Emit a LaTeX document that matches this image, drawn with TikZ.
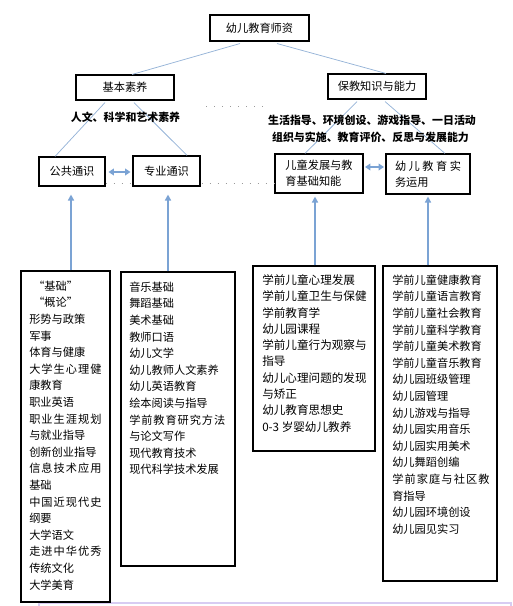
\documentclass[tikz,border=0pt]{standalone}
\usepackage{fontspec}
\setmainfont{Noto Sans CJK SC}
\usetikzlibrary{calc,arrows.meta}
\definecolor{connc}{HTML}{95B3D7}
\definecolor{arrc}{HTML}{7BA3D4}
\definecolor{lavc}{HTML}{D8CCF2}
\definecolor{dotc}{HTML}{9A9A9A}
\newcommand\jst[2]{\makebox[#1pt][l]{#2}}
\tikzset{
  box/.style={draw=black, line width=0.8pt, fill=white, inner sep=0pt, align=center,
    font=\fontsize{8.4}{12}\selectfont},
  lst/.style={anchor=north west, inner sep=0pt, align=left, font=\fontsize{8.4}{12.45}\selectfont},
  lbl/.style={inner sep=0pt, font=\fontsize{8.2}{12}\selectfont\bfseries},
  conn/.style={draw=connc, line width=0.55pt},
  uparr/.style={draw=arrc, line width=1.3pt, -{Triangle[length=4.5pt,width=4.5pt]}},
  dblarr/.style={draw=arrc, line width=1.6pt, {Triangle[length=4pt,width=5pt]}-{Triangle[length=4pt,width=5pt]}},
  dotl/.style={draw=dotc, line width=0.6pt, dash pattern=on 0.8pt off 5.2pt},
}
\begin{document}
\begin{tikzpicture}[x=0.75pt,y=-0.75pt]
\useasboundingbox (0,0) rectangle (513,606);
% background partial frame
\draw[lavc, line width=0.8pt] (39,603) rectangle (511,615);
% dotted guide lines
\coordinate (d1) at (206,106);
\coordinate (d2) at (263,106);
\draw[dotl] (d1) -- (d2);
% boxes (positions)
\node[box, minimum width=99*0.75pt, minimum height=26*0.75pt] (tp) at (259.5,28) {幼儿教育师资};
\node[box, minimum width=98*0.75pt, minimum height=25*0.75pt] (jb) at (125,87.5) {基本素养};
\node[box, minimum width=98*0.75pt, minimum height=25*0.75pt] (bj) at (377,86.5) {保教知识与能力};
\node[box, minimum width=66*0.75pt, minimum height=29*0.75pt] (gg) at (72,171.5) {公共通识};
\node[box, minimum width=88*0.75pt, minimum height=39*0.75pt, align=left] (kd) at (319,173.5) {儿童发展与教\\育基础知能};
\node[box, minimum width=84*0.75pt, minimum height=40*0.75pt, align=left] (sw) at (428,174)
  {\jst{49.5}{幼\hfill 儿\hfill 教\hfill 育\hfill 实}\\务运用};
% dotted line behind the middle box
\draw[dotl] ($(gg.east)+(0,11.5)$) -- ($(kd.west)+(0,9.5)$);
\node[box, minimum width=67*0.75pt, minimum height=30*0.75pt] (zy) at (166.5,171) {专业通识};
% list boxes
\node[box, minimum width=89*0.75pt, minimum height=331*0.75pt] (lb) at (65.5,436.5) {};
\node[box, minimum width=114*0.75pt, minimum height=294*0.75pt] (mb) at (178,419) {};
\node[box, minimum width=122*0.75pt, minimum height=185*0.75pt] (r1) at (314,358.5) {};
\node[box, minimum width=114*0.75pt, minimum height=315*0.75pt] (r2) at (440,423.5) {};
% connectors
\draw[conn] ($(tp.south)+(-19.5,2)$) -- ($(jb.north)+(7,0)$);
\draw[conn] ($(tp.south)+(17.5,2)$) -- ($(bj.north)+(9,0)$);
\draw[conn] ($(jb.south)+(-20,2)$) -- ($(gg.north)+(-17,0)$);
\draw[conn] ($(jb.south)+(9,2)$) -- ($(zy.north)+(20.5,0)$);
\draw[conn] ($(bj.south)+(-20,2)$) -- ($(kd.north)+(-14,0)$);
\draw[conn] ($(bj.south)+(8,2)$) -- ($(sw.north)+(17,0)$);
% labels
\node[lbl] (la) at (125.5,117.5) {人文、科学和艺术素养};
\node[lbl] (lb1) at (372,120) {生活指导、环境创设、游戏指导、一日活动};
\node[lbl] (lb2) at (370.5,137) {组织与实施、教育评价、反思与发展能力};
% double arrows
\draw[dblarr] ($(gg.east)+(3,0.5)$) -- ($(zy.west)+(-2,1)$);
\draw[dblarr] ($(kd.east)+(1.5,-6.5)$) -- ($(sw.west)+(-1.5,-7)$);
% up arrows
\draw[uparr] ($(lb.north)+(5.5,0)$) -- ($(gg.south)+(-1,8)$);
\draw[uparr] ($(mb.north)+(-10,0)$) -- ($(zy.south)+(1.5,8)$);
\draw[uparr] ($(r1.north)+(1,0)$) -- ($(kd.south)+(-4,3)$);
\draw[uparr] ($(r2.north)+(-12,0)$) -- ($(sw.south)+(0,2)$);
% list texts
\node[lst] (tl) at (29,280.5) {%
\hspace*{3pt}“基础”\\
\hspace*{3pt}“概论”\\
形势与政策\\
军事\\
体育与健康\\
\jst{54.3}{大\hfill 学\hfill 生\hfill 心\hfill 理\hfill 健}\\
康教育\\
职业英语\\
\jst{54.3}{职\hfill 业\hfill 生\hfill 涯\hfill 规\hfill 划}\\
与就业指导\\
创新创业指导\\
\jst{54.3}{信\hfill 息\hfill 技\hfill 术\hfill 应\hfill 用}\\
基础\\
\jst{54.3}{中\hfill 国\hfill 近\hfill 现\hfill 代\hfill 史}\\
纲要\\
大学语文\\
\jst{54.3}{走\hfill 进\hfill 中\hfill 华\hfill 优\hfill 秀}\\
传统文化\\
大学美育};
\node[lst] (tm) at (129,281.5) {%
音乐基础\\
舞蹈基础\\
美术基础\\
教师口语\\
幼儿文学\\
幼儿教师人文素养\\
幼儿英语教育\\
绘本阅读与指导\\
\jst{72}{学\hfill 前\hfill 教\hfill 育\hfill 研\hfill 究\hfill 方\hfill 法}\\
与论文写作\\
现代教育技术\\
现代科学技术发展};
\node[lst, font=\fontsize{8.7}{12.2}\selectfont] (t1) at (262,274.5) {%
学前儿童心理发展\\
学前儿童卫生与保健\\
学前教育学\\
幼儿园课程\\
\jst{78}{学\hfill 前\hfill 儿\hfill 童\hfill 行\hfill 为\hfill 观\hfill 察\hfill 与}\\
指导\\
\jst{78}{幼\hfill 儿\hfill 心\hfill 理\hfill 问\hfill 题\hfill 的\hfill 发\hfill 现}\\
与矫正\\
幼儿教育思想史\\
0-3 岁婴幼儿教养};
\node[lst] (t2) at (392,274.5) {%
学前儿童健康教育\\
学前儿童语言教育\\
学前儿童社会教育\\
学前儿童科学教育\\
学前儿童美术教育\\
学前儿童音乐教育\\
幼儿园班级管理\\
幼儿园管理\\
幼儿游戏与指导\\
幼儿园实用音乐\\
幼儿园实用美术\\
幼儿舞蹈创编\\
\jst{73}{学\hfill 前\hfill 家\hfill 庭\hfill 与\hfill 社\hfill 区\hfill 教}\\
育指导\\
幼儿园环境创设\\
幼儿园见实习};
\end{tikzpicture}
\end{document}
